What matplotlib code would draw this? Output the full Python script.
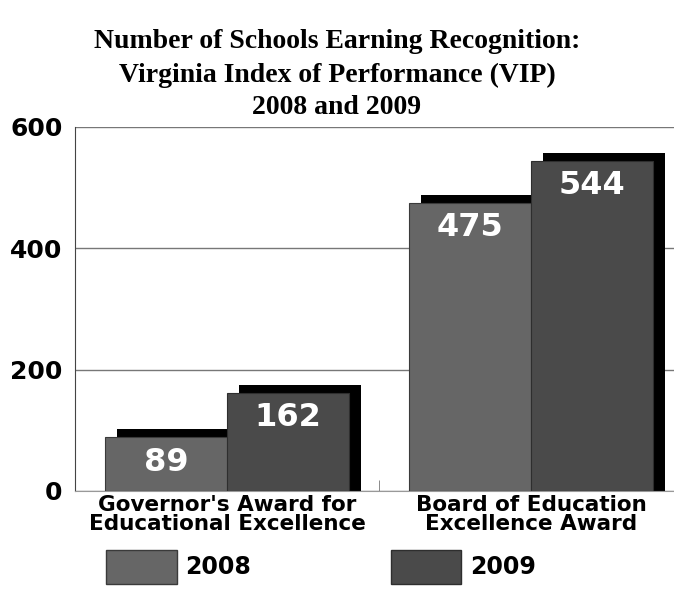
import matplotlib
matplotlib.use("Agg")
import matplotlib.pyplot as plt
from matplotlib.patches import Patch
import numpy as np

categories = ["Governor's Award for\nEducational Excellence", "Board of Education\nExcellence Award"]
series_names = ["2008", "2009"]
values_2008 = [89, 475]
values_2009 = [162, 544]
yticks = [0, 200, 400, 600]
title_lines = ["Number of Schools Earning Recognition:",
               "Virginia Index of Performance (VIP)",
               "2008 and 2009"]

c2008 = "#666666"
c2009 = "#4a4a4a"

W, H = 674, 589
fig = plt.figure(figsize=(W / 100, H / 100), dpi=100)
ax = fig.add_axes([75 / W, 98 / H, 608 / W, 364 / H])

x = np.arange(len(categories))
bw = 0.4
dx = 12 / 304          # shadow offset (x, data units)
dy = 8 * 600 / 364     # shadow offset (y, data units)

# shadows
for xs, vals in ((x - bw / 2, values_2008), (x + bw / 2, values_2009)):
    ax.bar(xs + dx, np.array(vals) + dy, width=bw, color="black", zorder=2)
b1 = ax.bar(x - bw / 2, values_2008, width=bw, color=c2008, edgecolor="#3a3a3a",
            linewidth=0.8, zorder=3)
b2 = ax.bar(x + bw / 2, values_2009, width=bw, color=c2009, edgecolor="#2e2e2e",
            linewidth=0.8, zorder=3)

for bars, vals in ((b1, values_2008), (b2, values_2009)):
    for rect, v in zip(bars, vals):
        ax.annotate(str(v), (rect.get_x() + rect.get_width() / 2, v),
                    xytext=(0, -18), textcoords="offset points",
                    ha="center", va="center", color="white",
                    fontsize=23, fontweight="bold", family="DejaVu Sans", zorder=4)

ax.set_xlim(-0.5, 1.5)
ax.set_ylim(0, 600)
ax.set_yticks(yticks)
ax.set_yticklabels([str(t) for t in yticks], fontsize=18, fontweight="bold")
ax.yaxis.grid(True, color="#777777", linewidth=1.0)
ax.set_axisbelow(True)
ax.tick_params(axis="y", length=0, pad=9)

ax.set_xticks(x)
ax.set_xticklabels(categories, fontsize=15.5, fontweight="bold", linespacing=0.9)
ax.tick_params(axis="x", length=0, pad=3)
ax.set_xticks([0.5], minor=True)
ax.tick_params(axis="x", which="minor", direction="in", length=8, color="#777777")

for s in ("top", "right"):
    ax.spines[s].set_visible(False)
ax.spines["left"].set_color("#444444")
ax.spines["bottom"].set_color("#999999")

# title
for i, (line, yy) in enumerate(zip(title_lines, (42, 75, 107))):
    fig.text(0.5, 1 - yy / H, line, ha="center", va="center",
             family="Liberation Serif", fontweight="bold", fontsize=20)

# legend
handles = [Patch(facecolor=c2008, edgecolor="#3a3a3a"),
           Patch(facecolor=c2009, edgecolor="#2e2e2e")]
fig.legend(handles, series_names, loc="lower left", bbox_to_anchor=(85 / W, -16 / H),
           ncol=2, frameon=False, handlelength=3.0, handleheight=1.85,
           handletextpad=0.35, columnspacing=5.9,
           prop={"family": "DejaVu Sans", "weight": "bold", "size": 17})

fig.savefig("out.png", dpi=100)
